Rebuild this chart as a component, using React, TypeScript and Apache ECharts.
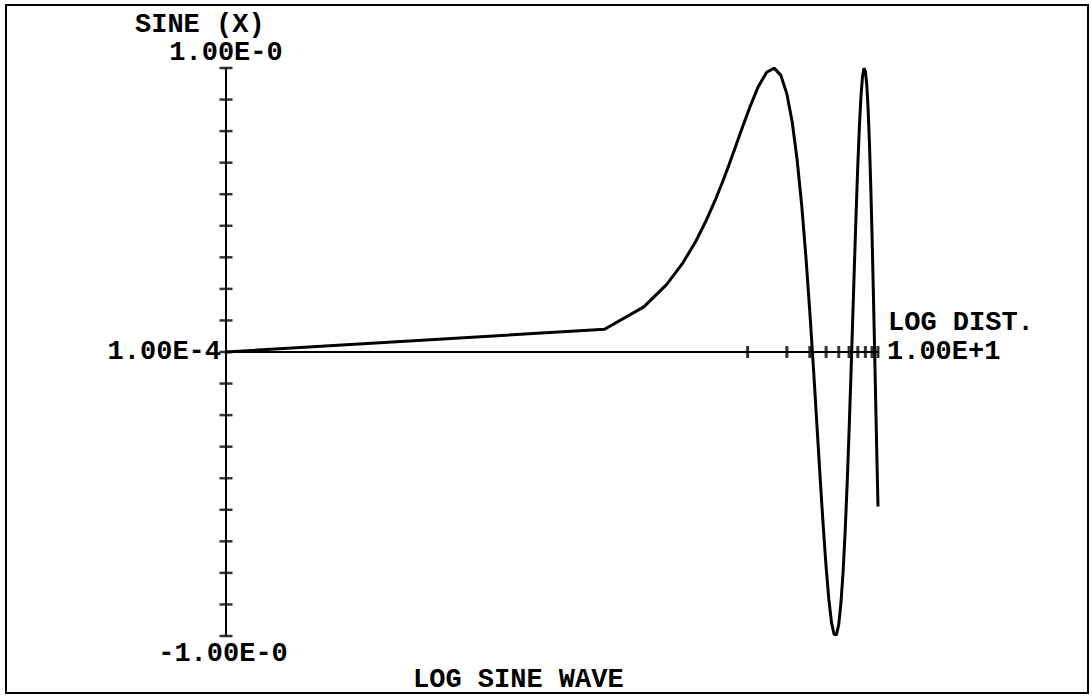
import React, { useEffect, useRef } from "react";
import * as echarts from "echarts";

// Sampled points of the plotted curve (x on log scale, y = SINE(X))
const xValues = [
  0.0001, 0.08, 0.16, 0.24, 0.32, 0.4, 0.48, 0.56, 0.64, 0.72, 0.8, 0.88, 0.96,
  1.04, 1.2, 1.4, 1.6, 1.8, 2.0, 2.2, 2.4, 2.6, 2.8, 3.0, 3.2, 3.4, 3.6, 3.8,
  4.0, 4.2, 4.4, 4.6, 4.8, 5.0, 5.2, 5.4, 5.6, 5.8, 6.0, 6.2, 6.4, 6.6, 6.8,
  7.0, 7.2, 7.4, 7.6, 7.8, 8.0, 8.2, 8.4, 8.6, 8.8, 9.0, 9.2, 9.4, 9.6, 9.8,
  10.0,
];
const yValues = [
  0.0001, 0.08, 0.159, 0.238, 0.315, 0.389, 0.462, 0.531, 0.597, 0.659, 0.717,
  0.771, 0.819, 0.862, 0.932, 0.985, 0.9996, 0.974, 0.909, 0.809, 0.675, 0.516,
  0.335, 0.141, -0.058, -0.256, -0.443, -0.612, -0.757, -0.872, -0.952, -0.994,
  -0.996, -0.959, -0.883, -0.773, -0.631, -0.465, -0.279, -0.083, 0.117, 0.312,
  0.494, 0.657, 0.794, 0.899, 0.968, 0.999, 0.989, 0.941, 0.855, 0.734, 0.585,
  0.412, 0.223, 0.025, -0.174, -0.366, -0.544,
];

// Tick marks (crossing the axes)
const xTickValues = [1, 2, 3, 4, 5, 6, 7, 8, 9, 10];
const yTickValues = [
  -1, -0.8889, -0.7778, -0.6667, -0.5556, -0.4444, -0.3333, -0.2222, -0.1111, 0,
  0.1111, 0.2222, 0.3333, 0.4444, 0.5556, 0.6667, 0.7778, 0.8889, 1,
];
const xTickLabels = ["1.00E-4", "1.00E+1"];
const yTickLabels = ["-1.00E-0", "1.00E-0"];
const xAxisTitle = "LOG DIST.";
const yAxisTitle = "SINE (X)";
const chartTitle = "LOG SINE WAVE";

const X_MIN = 0.0001;
const X_MAX = 10;

export default function App() {
  const ref = useRef<HTMLDivElement>(null);

  useEffect(() => {
    const chart = echarts.init(ref.current!, null, { renderer: "svg" });
    const font = {
      fontFamily: "Liberation Mono",
      fontSize: 27,
      fontWeight: "bold" as const,
      color: "#000",
      lineHeight: 22,
    };
    const axisLineStyle = { color: "#000", width: 2 };
    const yCommon = {
      type: "value" as const,
      min: -1,
      max: 1,
      position: "left" as const,
      axisTick: { show: false },
      axisLabel: { show: false },
      splitLine: { show: false },
      nameTextStyle: font,
    };
    const xCommon = {
      type: "log" as const,
      logBase: 10,
      min: X_MIN,
      max: X_MAX,
      axisTick: { show: false },
      axisLabel: { show: false },
      splitLine: { show: false },
      minorTick: { show: false },
      minorSplitLine: { show: false },
      nameTextStyle: font,
    };

    chart.setOption({
      animation: false,
      backgroundColor: "#fff",
      title: {
        text: chartTitle,
        left: 413,
        top: 669,
        padding: 0,
        textStyle: font,
      },
      grid: {
        left: 226,
        right: 214,
        top: 68,
        bottom: 60,
        containLabel: false,
        outerBoundsMode: "none",
      },
      xAxis: [
        {
          ...xCommon,
          name: xTickLabels[1],
          nameLocation: "end",
          nameGap: 9,
          axisLine: { show: true, onZero: true, lineStyle: axisLineStyle },
        },
        {
          ...xCommon,
          name: xTickLabels[0],
          nameLocation: "start",
          nameGap: 5,
          axisLine: { show: false, onZero: true },
        },
      ],
      yAxis: [
        {
          ...yCommon,
          name: yTickLabels[1],
          nameLocation: "end",
          nameGap: 4,
          axisLine: { show: true, onZero: false, lineStyle: axisLineStyle },
        },
        {
          ...yCommon,
          name: yTickLabels[0],
          nameLocation: "start",
          nameGap: 7,
          nameTextStyle: { ...font, padding: [0, 6, 0, 0] },
          axisLine: { show: false, onZero: false },
        },
      ],
      series: [
        {
          type: "line",
          xAxisIndex: 0,
          yAxisIndex: 0,
          data: xValues.map((x, i) => [x, yValues[i]]),
          showSymbol: false,
          symbol: "none",
          lineStyle: { color: "#000", width: 3 },
          z: 3,
          silent: true,
        },
        {
          type: "scatter",
          xAxisIndex: 0,
          yAxisIndex: 0,
          data: xTickValues.map((v) => [v, 0]),
          symbol: "rect",
          symbolSize: [3, 12],
          itemStyle: { color: "#000" },
          clip: false,
          z: 4,
          silent: true,
        },
        {
          type: "scatter",
          xAxisIndex: 0,
          yAxisIndex: 0,
          data: yTickValues.map((v) => [X_MIN, v]),
          symbol: "rect",
          symbolSize: [13, 2.5],
          itemStyle: { color: "#000" },
          clip: false,
          z: 4,
          silent: true,
        },
      ],
      graphic: [
        {
          type: "rect",
          silent: true,
          shape: { x: 6, y: 5, width: 1082, height: 688 },
          style: { fill: "none", stroke: "#000", lineWidth: 2 },
        },
        {
          type: "text",
          x: 135,
          y: 25,
          style: {
            text: yAxisTitle,
            fill: "#000",
            fontFamily: "Liberation Mono",
            fontSize: 27,
            fontWeight: "bold",
            lineHeight: 22,
            verticalAlign: "middle",
            align: "left",
          },
        },
        {
          type: "text",
          x: 888,
          y: 323,
          style: {
            text: xAxisTitle,
            fill: "#000",
            fontFamily: "Liberation Mono",
            fontSize: 27,
            fontWeight: "bold",
            lineHeight: 22,
            verticalAlign: "middle",
            align: "left",
          },
        },
      ],
    });

    return () => chart.dispose();
  }, []);

  return (
    <div
      ref={ref}
      style={{
        position: "fixed",
        left: 0,
        top: 0,
        width: 1092,
        height: 696,
        background: "#fff",
      }}
    />
  );
}
